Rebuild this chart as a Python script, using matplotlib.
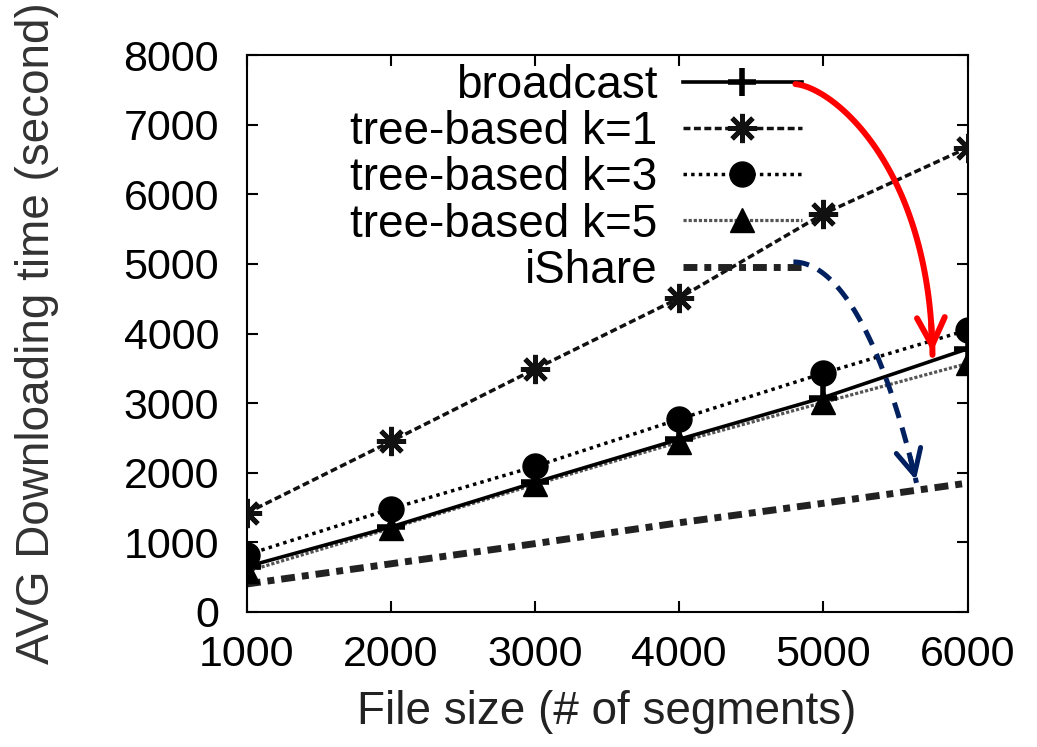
import numpy as np
import matplotlib
matplotlib.use("Agg")
import matplotlib.pyplot as plt

plt.rcParams['font.family'] = ['Liberation Sans', 'DejaVu Sans']

# data
file_size = [1000, 2000, 3000, 4000, 5000, 6000]
broadcast = [650, 1220, 1860, 2480, 3080, 3780]
tree_k1 = [1420, 2450, 3490, 4510, 5720, 6670]
tree_k3 = [820, 1480, 2090, 2770, 3430, 4050]
tree_k5 = [580, 1200, 1830, 2440, 3010, 3570]
ishare = [400, 690, 980, 1280, 1560, 1850]

fig = plt.figure(figsize=(10.37, 7.47), dpi=100)
ax = fig.add_axes([0.238, 0.181, 0.695, 0.745])

ax.plot(file_size, broadcast, color='black', lw=2.6, ls='-',
        marker='+', ms=20, mew=4, label='broadcast', zorder=4)
ax.plot(file_size, tree_k1, color='#111111', lw=2.5, ls=(0, (2, 1)),
        marker=(8, 2, 0), ms=21, mew=3.5, label='tree-based k=1', zorder=3)
ax.plot(file_size, tree_k3, color='black', lw=2.5, ls=(0, (1, 1.2)),
        marker='o', ms=18, label='tree-based k=3', zorder=5)
ax.plot(file_size, tree_k5, color='#555555', lw=2.3, ls=(0, (1, 0.6)),
        marker='^', ms=17, mfc='black', mec='black', label='tree-based k=5', zorder=3)
ax.plot(file_size, ishare, color='#222222', lw=5, ls=(0, (2, 1, 1, 1)),
        label='iShare', zorder=2)

ax.set_xlim(1000, 6000)
ax.set_ylim(0, 8000)
ax.set_xticks(file_size)
ax.set_yticks(np.arange(0, 8001, 1000))

ax.tick_params(direction='in', length=8, width=1.5, top=True, right=True,
               labelsize=31)
ax.tick_params(axis='y', pad=20)
ax.tick_params(axis='x', pad=17)
for s in ax.spines.values():
    s.set_linewidth(1.5)

ax.set_xlabel('File size (# of segments)', fontsize=33, color='#222222')
ax.set_ylabel('AVG Downloading time (second)', fontsize=33, color='#333333')
ax.xaxis.set_label_coords(0.5, -0.14)
ax.yaxis.set_label_coords(-0.26, 0.5)

leg = ax.legend(loc='upper right', bbox_to_anchor=(0.77, 0.985), frameon=False,
                markerfirst=False, fontsize=33, handlelength=2.6,
                handletextpad=0.55, labelspacing=0.05, borderpad=0,
                borderaxespad=0)


def bezier(p0, p1, p2, p3, n=80):
    t = np.linspace(0, 1, n)[:, None]
    p0, p1, p2, p3 = map(np.array, (p0, p1, p2, p3))
    return ((1 - t) ** 3 * p0 + 3 * (1 - t) ** 2 * t * p1
            + 3 * (1 - t) * t ** 2 * p2 + t ** 3 * p3)


# red highlight arrow (broadcast)
red = bezier((4806, 7586), (5083, 7529), (5743, 6351), (5757, 3693))
ax.plot(red[:, 0], red[:, 1], color='#ff0000', lw=4.3, solid_capstyle='round',
        zorder=6, clip_on=False)
ax.annotate('', xy=red[-1], xytext=red[-6],
            arrowprops=dict(arrowstyle='->', color='#ff0000', lw=4.3,
                            mutation_scale=50), zorder=6)

# blue dashed arrow (iShare)
blue = bezier((4792, 5029), (5083, 5029), (5396, 4052), (5646, 1853))
ax.plot(blue[:, 0], blue[:, 1], color='#002060', lw=3.6, ls=(0, (3.2, 2)),
        zorder=6)
ax.annotate('', xy=blue[-1], xytext=blue[-6],
            arrowprops=dict(arrowstyle='->', color='#002060', lw=3.6,
                            mutation_scale=45), zorder=6)

plt.savefig('out.png', dpi=100)
